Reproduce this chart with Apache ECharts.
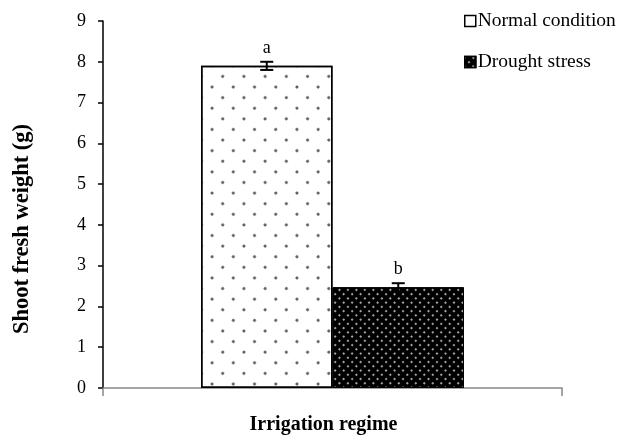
<!DOCTYPE html>
<html>
<head>
<meta charset="utf-8">
<script src="https://cdn.jsdelivr.net/npm/echarts@6/dist/echarts.min.js"></script>
<style>html,body{margin:0;padding:0;background:#fff}#c{width:622px;height:438px}</style>
</head>
<body>
<div id="c"></div>
<script>
var categories = [''];
var seriesNames = ['Normal condition', 'Drought stress'];
var normalValues = [7.9];
var droughtValues = [2.47];
var normalErrors = [0.1];
var droughtErrors = [0.1];
var letters = ['a', 'b'];
var yTicks = [0, 1, 2, 3, 4, 5, 6, 7, 8, 9];

var FONT = '"Liberation Serif", "Times New Roman", serif';
var chart = echarts.init(document.getElementById('c'), null, {renderer: 'canvas'});

var CAT_GAP = 0.427;
function errRender(params, api) {
  var idx = api.value(3);
  var val = api.value(1);
  var err = api.value(2);
  var band = api.size([1, 0])[0];
  var barW = band * (1 - CAT_GAP) / 2;
  var center = api.coord([api.value(0), val]);
  var x = center[0] + (idx === 0 ? -barW / 2 : barW / 2);
  var top = api.coord([api.value(0), val + err])[1];
  var bot = api.coord([api.value(0), val - err])[1];
  var hw = 6.5;
  return {
    type: 'group',
    children: [
      {type: 'line', shape: {x1: x, y1: top, x2: x, y2: bot}, style: {stroke: '#000', lineWidth: 2}},
      {type: 'line', shape: {x1: x - hw, y1: top, x2: x + hw, y2: top}, style: {stroke: '#000', lineWidth: 2}},
      {type: 'line', shape: {x1: x - hw, y1: bot, x2: x + hw, y2: bot}, style: {stroke: '#000', lineWidth: 2}},
      {type: 'text', style: {x: x, y: top - 5, text: letters[idx], fill: '#000', font: '18px ' + FONT, textAlign: 'center', textVerticalAlign: 'bottom'}}
    ]
  };
}

chart.setOption({
  animation: false,
  backgroundColor: '#fff',
  textStyle: {fontFamily: FONT},
  grid: {left: 103, right: 60, top: 21, bottom: 50, containLabel: false, outerBoundsMode: 'none'},
  legend: {
    orient: 'vertical',
    left: 459,
    top: 6,
    itemWidth: 11,
    itemHeight: 11,
    itemGap: 21,
    textStyle: {fontSize: 19.5, color: '#000', fontFamily: FONT, padding: [0, 0, 0, -3]},
    data: [
      {name: seriesNames[0], icon: 'rect', itemStyle: {color: '#fff', borderColor: '#000', borderWidth: 1.5, decal: 'none'}},
      {name: seriesNames[1], icon: 'rect', itemStyle: {color: '#000', borderColor: '#000', borderWidth: 1.5}}
    ]
  },
  xAxis: {
    type: 'category',
    data: categories,
    name: 'Irrigation regime',
    nameLocation: 'middle',
    nameGap: 27,
    nameTextStyle: {fontSize: 20, fontWeight: 'bold', color: '#000', fontFamily: FONT, padding: [0, 18, 0, 0]},
    axisLine: {lineStyle: {color: '#888', width: 1.5}},
    axisTick: {show: true, length: 8, lineStyle: {color: '#888', width: 1.5}},
    axisLabel: {show: false}
  },
  yAxis: {
    type: 'value',
    min: 0,
    max: 9,
    interval: 1,
    name: 'Shoot fresh weight (g)',
    nameLocation: 'middle',
    nameGap: 69,
    nameTextStyle: {fontSize: 22.5, fontWeight: 'bold', color: '#000', fontFamily: FONT, padding: [0, 49, 0, 0]},
    axisLine: {show: true, lineStyle: {color: '#000', width: 1.5}},
    axisTick: {show: true, length: 5, lineStyle: {color: '#000', width: 1.5}},
    axisLabel: {fontSize: 18, color: '#000', fontFamily: FONT, margin: 17,
      formatter: function (v) { return yTicks.indexOf(v) >= 0 ? String(v) : ''; }},
    splitLine: {show: false}
  },
  series: [
    {
      name: seriesNames[0],
      type: 'bar',
      data: normalValues,
      barGap: '0%',
      barCategoryGap: '42.7%',
      itemStyle: {
        color: '#fff',
        borderColor: '#000',
        borderWidth: 1.5,
        decal: {
          symbol: 'circle',
          symbolSize: 1,
          color: '#555',
          rotation: Math.PI / 4,
          dashArrayX: [3, 12],
          dashArrayY: [3, 12]
        }
      }
    },
    {
      name: seriesNames[1],
      type: 'bar',
      data: droughtValues,
      barGap: '0%',
      barCategoryGap: '42.7%',
      itemStyle: {
        color: '#000',
        borderColor: '#000',
        borderWidth: 1,
        decal: {
          symbol: 'circle',
          symbolSize: 1,
          color: '#d8d8d8',
          rotation: Math.PI / 4,
          dashArrayX: [2, 4],
          dashArrayY: [2, 4]
        }
      }
    },
    {
      type: 'custom',
      renderItem: errRender,
      z: 10,
      silent: true,
      data: [[0, normalValues[0], normalErrors[0], 0], [0, droughtValues[0], droughtErrors[0], 1]]
    }
  ]
});
</script>
</body>
</html>
